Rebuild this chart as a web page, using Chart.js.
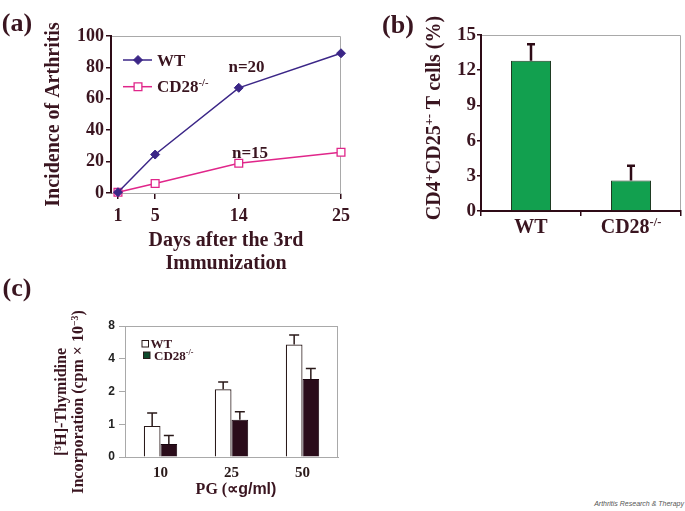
<!DOCTYPE html>
<html><head><meta charset="utf-8">
<script src="https://cdn.jsdelivr.net/npm/chart.js@4/dist/chart.umd.min.js"></script>
<style>
html,body{margin:0;padding:0;background:#fff;width:685px;height:511px;overflow:hidden;position:relative}
canvas{position:absolute}
#wm{position:absolute;right:1px;top:500px;font:italic 7px 'Liberation Sans',Arial,sans-serif;line-height:8px;color:#555;white-space:nowrap}
</style></head><body>
<canvas id="ca" width="365" height="280" style="left:0;top:0"></canvas>
<canvas id="cb" width="315" height="265" style="left:370px;top:0"></canvas>
<canvas id="cc" width="365" height="246" style="left:0;top:265px"></canvas>
<div id="wm">Arthritis Research &amp; Therapy</div>
<script>
// ---------- data ----------
const daysA = [1, 5, 14, 25];
const wtIncidence = [0.5, 24.5, 67, 89];
const cd28Incidence = [0.5, 6, 19, 26];
const yTicksA = [0, 20, 40, 60, 80, 100];

const groupsB = ['WT', 'CD28'];
const cd4Values = [12.8, 2.6];
const cd4Errors = [1.5, 1.35];
const yTicksB = [0, 3, 6, 9, 12, 15];

const pgDoses = ['10', '25', '50'];
const wtThymidine = [0.95, 2.1, 5.4];
const wtThymidineErr = [0.32, 0.35, 1.2];
const cd28Thymidine = [0.4, 1.1, 2.6];
const cd28ThymidineErr = [0.26, 0.2, 0.65];
const yTicksC = [0, 1, 2, 4, 8];

// ---------- styles ----------
const SERIF = "'Liberation Serif', 'Times New Roman', serif";
const SANS = "'Liberation Sans', Arial, sans-serif";
const TEXT = '#3a1520';
const AXIS = '#2e0b16';
const GRAY = '#a9a9a9';
const WT_C = '#3b2687';
const CD_C = '#e0268a';
const GREEN = '#12a04f';
const GREEN_B = '#1f3b23';
const DARK_BAR = '#2a0c1a';
const LEG_GREEN = '#0e4a2c';

Chart.defaults.color = TEXT;

// rich text (supports superscripts); y is the visual centre of capitals
function rich(ctx, segs, x, y, o) {
  const size = o.size, weight = o.weight || 'bold', fam = o.family || SERIF;
  ctx.save();
  ctx.translate(x, y);
  if (o.rot) ctx.rotate(o.rot);
  const parts = segs.map(s => {
    const sz = s[1] ? size * 0.62 : size;
    const font = weight + ' ' + sz + 'px ' + (s[2] || fam);
    ctx.font = font;
    return {t: s[0], font, w: ctx.measureText(s[0]).width, dy: s[1] ? -size * 0.36 : 0};
  });
  const total = parts.reduce((a, p) => a + p.w, 0);
  let cx = o.align === 'left' ? 0 : o.align === 'right' ? -total : -total / 2;
  ctx.fillStyle = o.color || TEXT;
  ctx.textBaseline = 'alphabetic';
  const base = size * 0.34;
  parts.forEach(p => { ctx.font = p.font; ctx.fillText(p.t, cx, base + p.dy); cx += p.w; });
  ctx.restore();
}

// ---------- custom scale for panel (c): 0..1 linear, then doubling ----------
const toPos = v => v <= 1 ? v : 1 + Math.log2(v);
const fromPos = p => p <= 1 ? p : Math.pow(2, p - 1);
class DoublingScale extends Chart.LinearScale {
  determineDataLimits() { this.min = toPos(yTicksC[0]); this.max = toPos(yTicksC[yTicksC.length - 1]); }
  buildTicks() { return yTicksC.map(v => ({value: v})); }
  getPixelForValue(v) { return (v === null || v === undefined) ? NaN : super.getPixelForValue(toPos(v)); }
  getValueForPixel(p) { return fromPos(super.getValueForPixel(p)); }
}
DoublingScale.id = 'doubling';
DoublingScale.defaults = {};
Chart.register(DoublingScale);

// ---------- panel (a) ----------
const legendA = [[['WT']], [['CD28'], ['-/-', 1]]];
const panelA = {
  id: 'panelA',
  beforeDraw(chart) {
    const {ctx, chartArea: a} = chart;
    ctx.save(); ctx.strokeStyle = GRAY; ctx.lineWidth = 1;
    ctx.beginPath(); ctx.moveTo(a.left, a.top + 0.5); ctx.lineTo(a.right - 0.5, a.top + 0.5); ctx.lineTo(a.right - 0.5, a.bottom); ctx.stroke();
    ctx.restore();
  },
  afterDraw(chart) {
    const ctx = chart.ctx;
    rich(ctx, [['(a)']], 17, 22, {size: 26});
    chart.data.datasets.forEach((ds, i) => {
      const y = 60 + i * 26.7;
      ctx.save();
      ctx.strokeStyle = ds.borderColor; ctx.lineWidth = ds.borderWidth;
      ctx.beginPath(); ctx.moveTo(123, y); ctx.lineTo(152, y); ctx.stroke();
      ctx.fillStyle = ds.pointBackgroundColor; ctx.strokeStyle = ds.pointBorderColor; ctx.lineWidth = ds.pointBorderWidth;
      Chart.helpers.drawPoint(ctx, {pointStyle: ds.pointStyle, radius: ds.pointRadius, borderWidth: ds.pointBorderWidth, rotation: 0}, 138, y);
      ctx.restore();
      rich(ctx, legendA[i], 157, y, {size: 17, align: 'left'});
    });
    rich(ctx, [['n=20']], 246.5, 66, {size: 17});
    rich(ctx, [['n=15']], 250, 152, {size: 17});
  }
};

new Chart(document.getElementById('ca'), {
  type: 'line',
  data: {datasets: [
    {label: 'WT', data: daysA.map((d, i) => ({x: d, y: wtIncidence[i]})), borderColor: WT_C, backgroundColor: WT_C,
     borderWidth: 1.5, tension: 0, pointStyle: 'rectRot', pointRadius: 4.5, pointBackgroundColor: WT_C,
     pointBorderColor: WT_C, pointBorderWidth: 1, clip: false},
    {label: 'CD28-/-', data: daysA.map((d, i) => ({x: d, y: cd28Incidence[i]})), borderColor: CD_C, backgroundColor: '#fff',
     borderWidth: 1.5, tension: 0, pointStyle: 'rect', pointRadius: 5.5, pointBackgroundColor: '#fff',
     pointBorderColor: CD_C, pointBorderWidth: 1.3, clip: false}
  ]},
  options: {
    responsive: false, animation: false, events: [],
    layout: {padding: {left: 0, top: 36, right: 24, bottom: 0}},
    plugins: {legend: {display: false}, tooltip: {enabled: false}},
    scales: {
      x: {type: 'linear', min: 0.25, max: 25,
          afterBuildTicks: s => { s.ticks = daysA.map(v => ({value: v})); },
          afterFit: s => { s.height = 87; },
          grid: {drawOnChartArea: false, drawTicks: true, tickLength: 6, color: AXIS, lineWidth: 1.5},
          border: {color: GRAY, width: 1},
          ticks: {color: TEXT, font: {family: SERIF, size: 18, weight: 'bold'}, padding: 7, maxRotation: 0, autoSkip: false, callback: v => String(v)},
          title: {display: true, text: ['Days after the 3rd', 'Immunization'], color: TEXT,
                  font: {family: SERIF, size: 20, weight: 'bold', lineHeight: 1.15}, padding: {top: 0, bottom: 5}}},
      y: {min: 0, max: 100,
          afterBuildTicks: s => { s.ticks = yTicksA.map(v => ({value: v})); },
          afterFit: s => { s.width = 111; },
          grid: {drawOnChartArea: false, tickLength: 5, color: AXIS, lineWidth: 1.5},
          border: {color: AXIS, width: 2},
          ticks: {color: TEXT, font: {family: SERIF, size: 18, weight: 'bold'}, padding: 2, callback: v => String(v)},
          title: {display: true, text: 'Incidence of Arthritis', color: TEXT,
                  font: {family: SERIF, size: 20, weight: 'bold', lineHeight: 1.15}, padding: {top: 42.5, bottom: 0}}}
    }
  },
  plugins: [panelA]
});

// ---------- panel (b) ----------
const xLabelsB = [[['WT']], [['CD28'], ['-/-', 1]]];
const panelB = {
  id: 'panelB',
  beforeDraw(chart) {
    const {ctx, chartArea: a} = chart;
    ctx.save(); ctx.strokeStyle = GRAY; ctx.lineWidth = 1;
    ctx.beginPath(); ctx.moveTo(a.left, a.top + 0.5); ctx.lineTo(a.right - 0.5, a.top + 0.5); ctx.lineTo(a.right - 0.5, a.bottom); ctx.stroke();
    ctx.restore();
  },
  afterDatasetsDraw(chart) {
    const ctx = chart.ctx, ys = chart.scales.y;
    const ds = chart.data.datasets[0];
    chart.getDatasetMeta(0).data.forEach((bar, i) => {
      const top = ys.getPixelForValue(ds.data[i] + ds.errors[i]);
      ctx.save(); ctx.strokeStyle = AXIS; ctx.lineWidth = 2.5;
      ctx.beginPath(); ctx.moveTo(bar.x, bar.y); ctx.lineTo(bar.x, top);
      ctx.moveTo(bar.x - 4, top + 1); ctx.lineTo(bar.x + 4, top + 1); ctx.stroke();
      ctx.restore();
    });
  },
  afterDraw(chart) {
    const ctx = chart.ctx, xs = chart.scales.x;
    rich(ctx, [['(b)']], 28, 24, {size: 26});
    xLabelsB.forEach((segs, i) => rich(ctx, segs, xs.getPixelForTick(i), 226, {size: 20}));
    rich(ctx, [['CD4'], ['+', 1], ['CD25'], ['+-', 1], [' T cells (%)']], 63, 118, {size: 20, rot: -Math.PI / 2});
  }
};

new Chart(document.getElementById('cb'), {
  type: 'bar',
  data: {labels: groupsB, datasets: [
    {label: 'CD4+CD25+- T cells (%)', data: cd4Values, errors: cd4Errors, backgroundColor: GREEN, borderColor: GREEN_B,
     borderWidth: 1, borderSkipped: 'bottom', categoryPercentage: 1, barPercentage: 0.4}
  ]},
  options: {
    responsive: false, animation: false, events: [],
    layout: {padding: {left: 0, top: 35, right: 4, bottom: 0}},
    plugins: {legend: {display: false}, tooltip: {enabled: false}},
    scales: {
      x: {afterFit: s => { s.height = 54; },
          grid: {drawOnChartArea: false, drawTicks: true, tickLength: 5, color: AXIS, lineWidth: 1.5, offset: true},
          border: {color: AXIS, width: 2},
          ticks: {display: false}},
      y: {min: 0, max: 15,
          afterBuildTicks: s => { s.ticks = yTicksB.map(v => ({value: v})); },
          afterFit: s => { s.width = 111; },
          grid: {drawOnChartArea: false, tickLength: 4, color: AXIS, lineWidth: 1.5},
          border: {color: AXIS, width: 2},
          ticks: {color: TEXT, font: {family: SERIF, size: 19, weight: 'bold'}, padding: 1, callback: v => String(v)}}
    }
  },
  plugins: [panelB]
});

// ---------- panel (c) ----------
const legendC = [[['WT']], [['CD28'], ['-/-', 1]]];
const panelC = {
  id: 'panelC',
  beforeDraw(chart) {
    const {ctx, chartArea: a} = chart;
    ctx.save(); ctx.strokeStyle = GRAY; ctx.lineWidth = 1;
    ctx.strokeRect(a.left + 0.5, a.top + 0.5, a.right - a.left - 1, a.bottom - a.top);
    ctx.restore();
  },
  afterDatasetsDraw(chart) {
    const ctx = chart.ctx, ys = chart.scales.y;
    chart.data.datasets.forEach((ds, di) => {
      chart.getDatasetMeta(di).data.forEach((bar, i) => {
        const top = ys.getPixelForValue(ds.data[i] + ds.errors[i]);
        ctx.save(); ctx.strokeStyle = '#2a1a1a'; ctx.lineWidth = 1.5;
        ctx.beginPath(); ctx.moveTo(bar.x, bar.y); ctx.lineTo(bar.x, top);
        ctx.moveTo(bar.x - 5, top); ctx.lineTo(bar.x + 5, top); ctx.stroke();
        ctx.restore();
      });
    });
  },
  afterDraw(chart) {
    const ctx = chart.ctx;
    rich(ctx, [['(c)']], 17, 22, {size: 26});
    // y title (two lines)
    rich(ctx, [['['], ['3', 1], ['H]-Thymidine']], 61, 137, {size: 16, rot: -Math.PI / 2});
    rich(ctx, [['Incorporation (cpm \u00d7 10'], ['\u22123', 1], [')']], 78, 137, {size: 16, rot: -Math.PI / 2});
    // legend
    ctx.save();
    ctx.fillStyle = '#fff'; ctx.strokeStyle = '#2a1a1a'; ctx.lineWidth = 1;
    ctx.fillRect(142, 75.5, 6.5, 6.5); ctx.strokeRect(142, 75.5, 6.5, 6.5);
    ctx.fillStyle = LEG_GREEN; ctx.fillRect(143.5, 87, 6.5, 6.5); ctx.strokeRect(143.5, 87, 6.5, 6.5);
    ctx.restore();
    rich(ctx, legendC[0], 150.5, 78.5, {size: 13, align: 'left'});
    rich(ctx, legendC[1], 154, 90.5, {size: 13, align: 'left'});
    // x title
    rich(ctx, [['PG ('], ['\u221d'], ['g/ml)', 0, SANS]], 236, 224, {size: 16});
  }
};

new Chart(document.getElementById('cc'), {
  type: 'bar',
  data: {labels: pgDoses, datasets: [
    {label: 'WT', data: wtThymidine, errors: wtThymidineErr, backgroundColor: '#ffffff', borderColor: '#2a1a1a',
     borderWidth: 1.2, borderSkipped: 'bottom', categoryPercentage: 0.47, barPercentage: 1},
    {label: 'CD28-/-', data: cd28Thymidine, errors: cd28ThymidineErr, backgroundColor: DARK_BAR, borderColor: '#1a0610',
     borderWidth: 1, borderSkipped: 'bottom', categoryPercentage: 0.47, barPercentage: 1}
  ]},
  options: {
    responsive: false, animation: false, events: [],
    layout: {padding: {left: 0, top: 61, right: 27, bottom: 0}},
    plugins: {legend: {display: false}, tooltip: {enabled: false}},
    scales: {
      x: {afterFit: s => { s.height = 54; },
          grid: {display: false, drawTicks: false},
          border: {color: GRAY, width: 1},
          ticks: {color: '#2a1a1a', font: {family: SERIF, size: 15, weight: 'bold'}, padding: 7}},
      y: {type: 'doubling',
          afterFit: s => { s.width = 125; },
          grid: {drawOnChartArea: false, tickLength: 6, color: GRAY, lineWidth: 1},
          border: {color: GRAY, width: 1},
          ticks: {color: '#222', font: {family: SANS, size: 12, weight: 'bold'}, padding: 4, callback: v => String(v)}}
    }
  },
  plugins: [panelC]
});
</script>
</body></html>
